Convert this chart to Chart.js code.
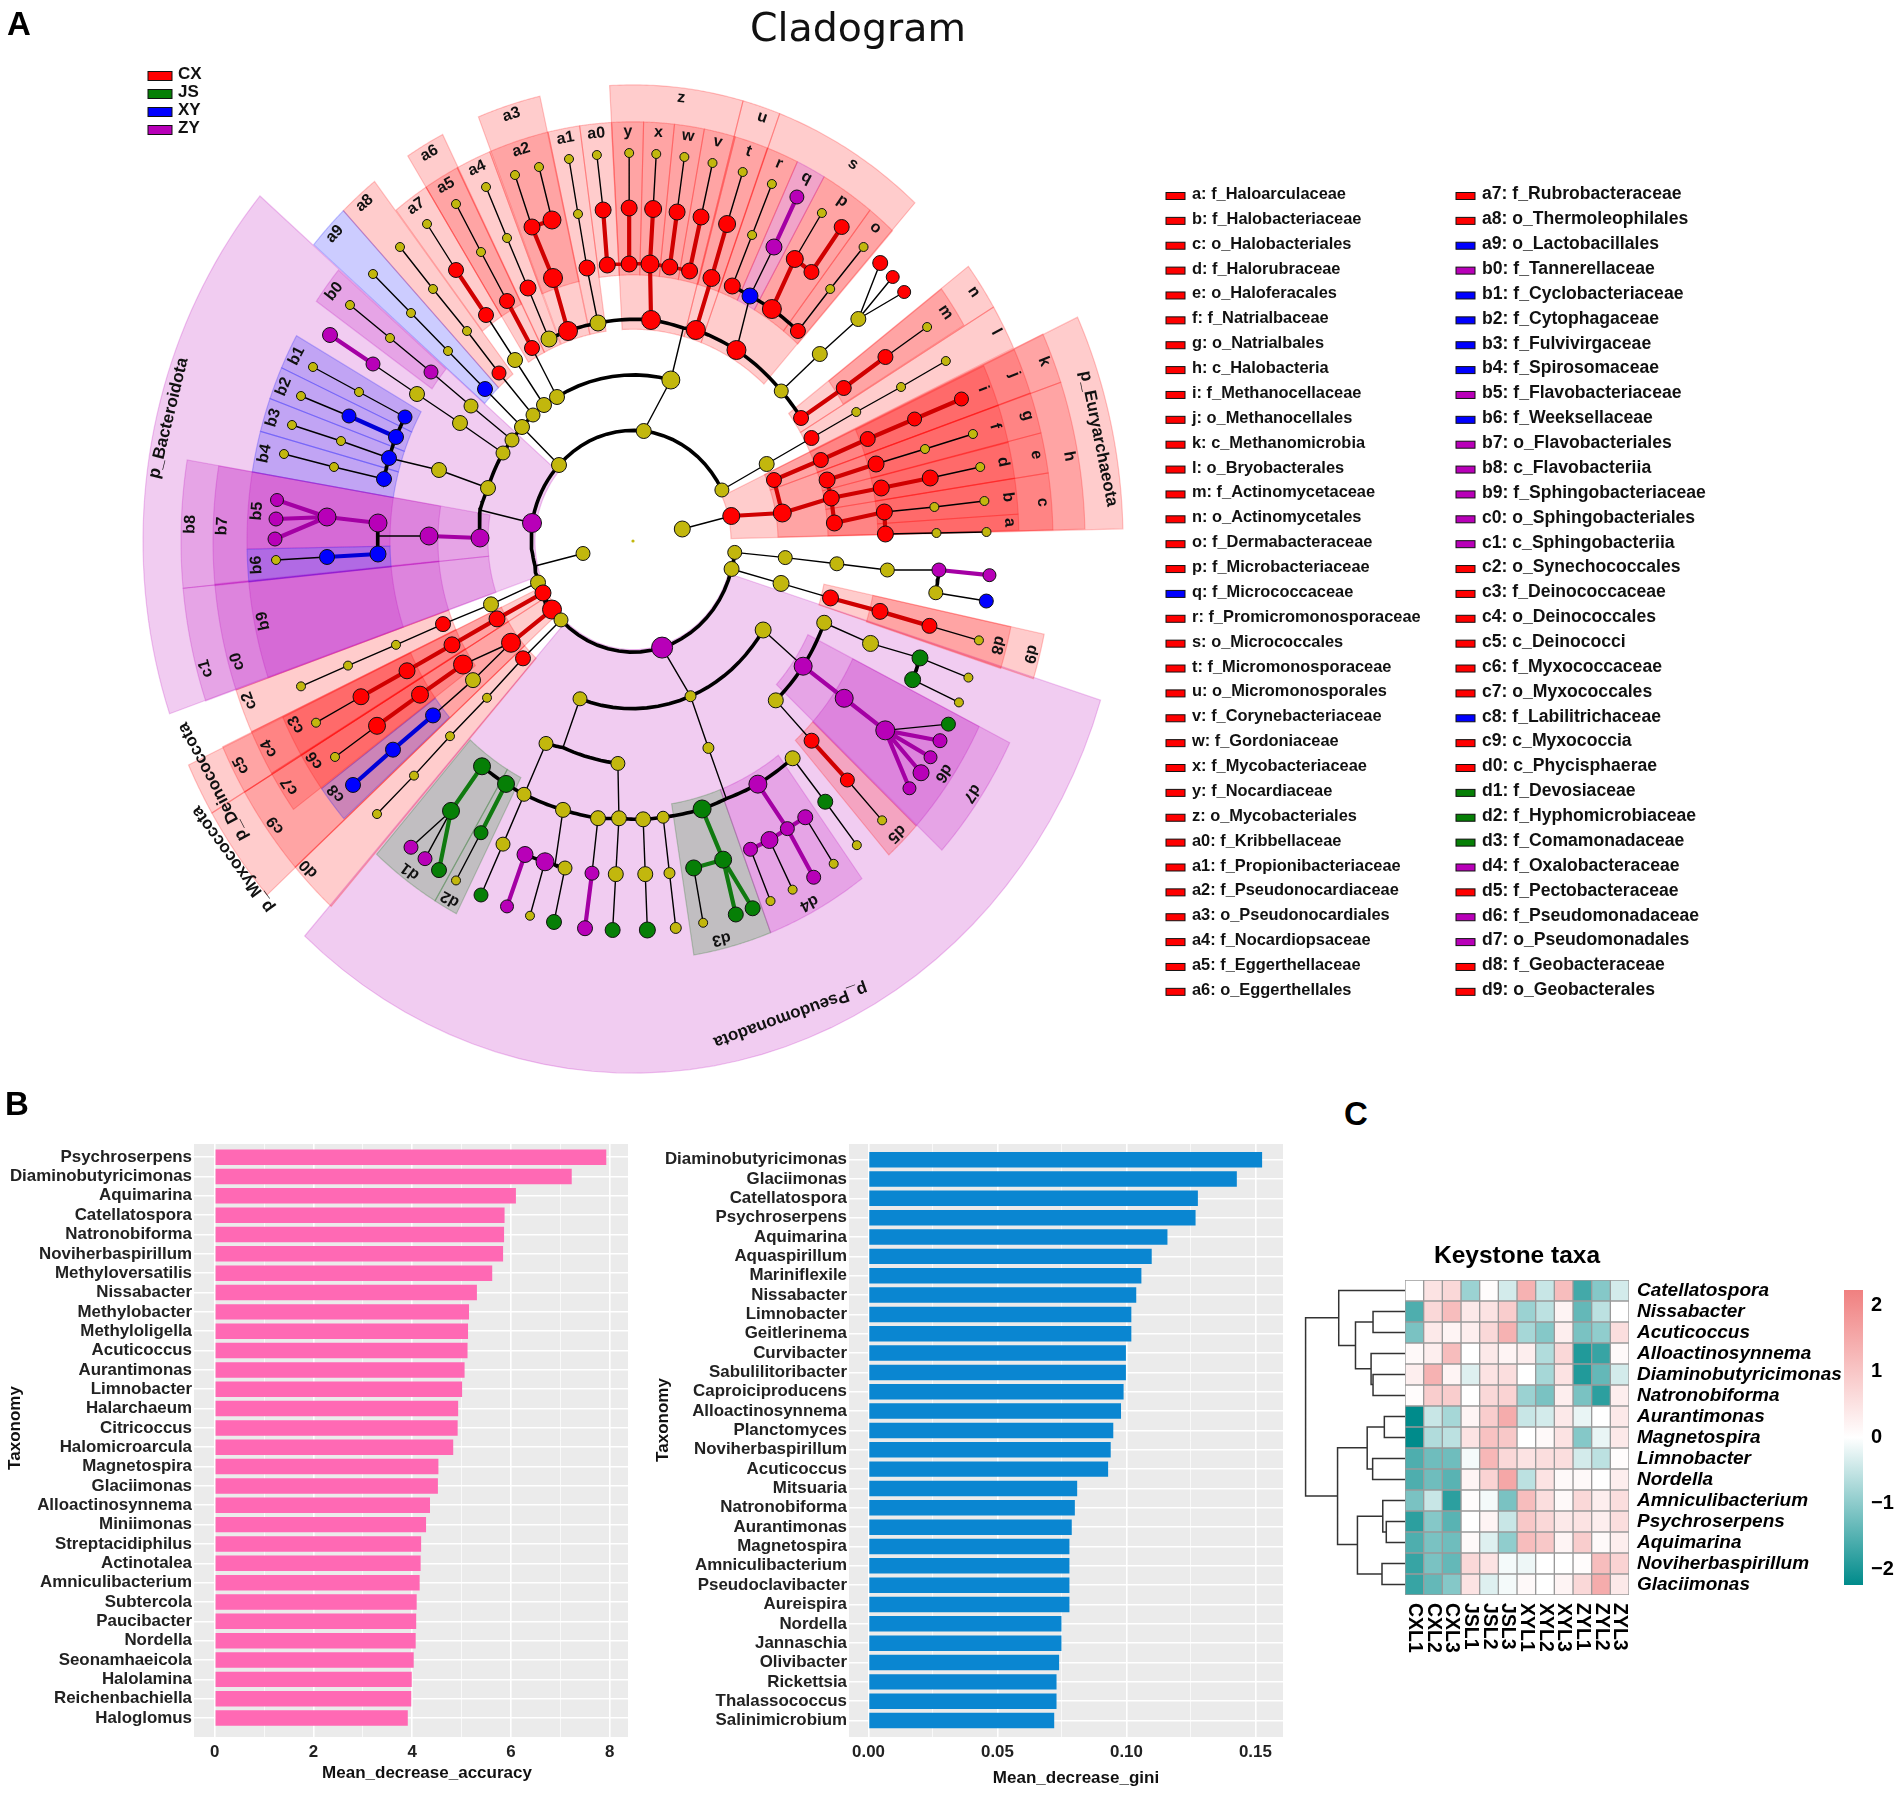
<!DOCTYPE html>
<html>
<head>
<meta charset="utf-8">
<title>Cladogram, importance ranking and keystone taxa</title>
<script src="https://cdn.jsdelivr.net/npm/chart.js@4"></script>
<style>
  html, body { margin: 0; background: #fff; }
  #page { position: relative; width: 1902px; height: 1797px; overflow: hidden; }
  canvas { position: absolute; display: block; }
  .letter { position: absolute; font: bold 33px "Liberation Sans", Arial, sans-serif; color: #000; transform: translate(-50%, -50%); }
  #cladoTitle { position: absolute; left: 858px; top: 27px; transform: translate(-50%, -50%); font: 39.5px "DejaVu Sans", sans-serif; color: #111; }
</style>
</head>
<body>
<div id="page">
  <canvas id="clado" width="1902" height="1090" style="left:0;top:0"></canvas>
  <canvas id="acc" width="640" height="667" style="left:0;top:1130px"></canvas>
  <canvas id="gini" width="650" height="667" style="left:640px;top:1130px"></canvas>
  <canvas id="dendro" width="115" height="315" style="left:1290px;top:1280px"></canvas>
  <canvas id="heat" width="507" height="420" style="left:1395px;top:1240px"></canvas>
  <canvas id="cbar" width="58" height="335" style="left:1844px;top:1270px"></canvas>
  <div id="cladoTitle">Cladogram</div>
  <div class="letter" style="left:19px;top:24px">A</div>
  <div class="letter" style="left:17px;top:1104px">B</div>
  <div class="letter" style="left:1356px;top:1114px">C</div>
</div>
<script>
// ---- panel B data
const accLabels = ["Psychroserpens","Diaminobutyricimonas","Aquimarina","Catellatospora","Natronobiforma","Noviherbaspirillum","Methyloversatilis","Nissabacter","Methylobacter","Methyloligella","Acuticoccus","Aurantimonas","Limnobacter","Halarchaeum","Citricoccus","Halomicroarcula","Magnetospira","Glaciimonas","Alloactinosynnema","Miniimonas","Streptacidiphilus","Actinotalea","Amniculibacterium","Subtercola","Paucibacter","Nordella","Seonamhaeicola","Halolamina","Reichenbachiella","Haloglomus"];
const accValues = [7.93,7.23,6.1,5.87,5.86,5.84,5.62,5.31,5.15,5.13,5.12,5.06,5.01,4.93,4.92,4.83,4.53,4.52,4.36,4.28,4.18,4.17,4.15,4.09,4.08,4.07,4.03,3.99,3.98,3.91];
const giniLabels = ["Diaminobutyricimonas","Glaciimonas","Catellatospora","Psychroserpens","Aquimarina","Aquaspirillum","Mariniflexile","Nissabacter","Limnobacter","Geitlerinema","Curvibacter","Sabulilitoribacter","Caproiciproducens","Alloactinosynnema","Planctomyces","Noviherbaspirillum","Acuticoccus","Mitsuaria","Natronobiforma","Aurantimonas","Magnetospira","Amniculibacterium","Pseudoclavibacter","Aureispira","Nordella","Jannaschia","Olivibacter","Rickettsia","Thalassococcus","Salinimicrobium"];
const giniValues = [0.1526,0.1428,0.1277,0.1268,0.1159,0.1098,0.1058,0.1038,0.1019,0.1019,0.0998,0.0998,0.0989,0.0979,0.0949,0.0939,0.0929,0.0809,0.08,0.0788,0.0779,0.0779,0.0779,0.0779,0.0748,0.0748,0.0739,0.0729,0.0729,0.072];

// ---- panel C data
const heatRows = ["Catellatospora","Nissabacter","Acuticoccus","Alloactinosynnema","Diaminobutyricimonas","Natronobiforma","Aurantimonas","Magnetospira","Limnobacter","Nordella","Amniculibacterium","Psychroserpens","Aquimarina","Noviherbaspirillum","Glaciimonas"];
const heatCols = ["CXL1","CXL2","CXL3","JSL1","JSL2","JSL3","XYL1","XYL2","XYL3","ZYL1","ZYL2","ZYL3"];
const heatValues = [
  [0,0.5,0.7,-0.9,0.05,-0.4,1.4,-0.5,1.2,-1.7,-1.1,-0.4],
  [-1.6,0.7,1.2,0.4,0.5,0.9,-0.9,-0.6,0.2,-1.4,-0.6,0],
  [-1.2,0.4,0.2,0.3,0.7,1.4,-0.8,-1.1,0.3,-1.2,-1,0.6],
  [0.1,0.3,1.2,0,0.4,0.2,0.3,-0.7,0.7,-2,-1.8,0.1],
  [0.3,1.4,0.2,-0.3,0.5,0.6,0,-0.8,0.5,-2,-1.4,-0.4],
  [0.05,0.9,0.9,0,0.7,0.8,-0.9,-1.2,0.3,-1.2,-1.9,0.3],
  [-2.3,-0.5,-0.8,0.2,0.9,1.5,-0.5,-0.4,0.4,-0.2,0,0.4],
  [-2.3,-0.7,-0.6,0.5,1.1,1,0,0.1,0.5,-1.1,-0.2,0.4],
  [-1.6,-1.3,-1.3,-0.1,1.3,0.7,0.5,0.6,0.6,-0.4,-0.6,0.05],
  [-1.6,-1.3,-1.5,0.2,0.8,1.6,-0.6,0.5,0.1,0.1,0,0.3],
  [-1.2,-0.5,-1.9,0.05,-0.1,-1.2,1.2,0.6,0.1,0.7,0.3,0.6],
  [-1.9,-1.1,-1.5,0,0.2,-0.5,1,0.7,0.4,0.5,0.3,0.6],
  [-1.6,-1.2,-1.3,0.1,-0.3,-1,1.2,1,0.2,0.9,0.1,0.3],
  [-1.8,-1.2,-1.4,0.7,0.5,-0.1,-0.15,0,0,0.05,1.2,0.8],
  [-1.8,-1.4,-1.1,0.5,-0.3,-0.1,0.1,0,0.2,0.7,1.5,0.4]
];
// height, top row, bottom row, child height top, child height bottom
const dendroMerges = [
  [40,1.3,9.79,125,122],[125,0,2.62,295,168],[168,1.5,3.73,213,208],[213,1,2,295,295],
  [208,3,4.48,295,213],[213,4,5,295,295],[122,7.49,12.1,198,173],[198,6.5,8.5,242,212],
  [242,6,7,295,295],[212,8,9,295,295],[173,10.75,13.5,238,236],[238,10,11.5,295,247],
  [247,11,12,295,295],[236,13,14,295,295]
];

// ---- panel A legend data
const groupNames = ["CX","JS","XY","ZY"];
const groupKeys = ["R","G","B","P"];
const taxaCol1 = ["a: f_Haloarculaceae","b: f_Halobacteriaceae","c: o_Halobacteriales","d: f_Halorubraceae","e: o_Haloferacales","f: f_Natrialbaceae","g: o_Natrialbales","h: c_Halobacteria","i: f_Methanocellaceae","j: o_Methanocellales","k: c_Methanomicrobia","l: o_Bryobacterales","m: f_Actinomycetaceae","n: o_Actinomycetales","o: f_Dermabacteraceae","p: f_Microbacteriaceae","q: f_Micrococcaceae","r: f_Promicromonosporaceae","s: o_Micrococcales","t: f_Micromonosporaceae","u: o_Micromonosporales","v: f_Corynebacteriaceae","w: f_Gordoniaceae","x: f_Mycobacteriaceae","y: f_Nocardiaceae","z: o_Mycobacteriales","a0: f_Kribbellaceae","a1: f_Propionibacteriaceae","a2: f_Pseudonocardiaceae","a3: o_Pseudonocardiales","a4: f_Nocardiopsaceae","a5: f_Eggerthellaceae","a6: o_Eggerthellales"];
const taxaCol1Keys = "RRRRRRRRRRRRRRRRBRRRRRRRRRRRRRRRR";
const taxaCol2 = ["a7: f_Rubrobacteraceae","a8: o_Thermoleophilales","a9: o_Lactobacillales","b0: f_Tannerellaceae","b1: f_Cyclobacteriaceae","b2: f_Cytophagaceae","b3: f_Fulvivirgaceae","b4: f_Spirosomaceae","b5: f_Flavobacteriaceae","b6: f_Weeksellaceae","b7: o_Flavobacteriales","b8: c_Flavobacteriia","b9: f_Sphingobacteriaceae","c0: o_Sphingobacteriales","c1: c_Sphingobacteriia","c2: o_Synechococcales","c3: f_Deinococcaceae","c4: o_Deinococcales","c5: c_Deinococci","c6: f_Myxococcaceae","c7: o_Myxococcales","c8: f_Labilitrichaceae","c9: c_Myxococcia","d0: c_Phycisphaerae","d1: f_Devosiaceae","d2: f_Hyphomicrobiaceae","d3: f_Comamonadaceae","d4: f_Oxalobacteraceae","d5: f_Pectobacteraceae","d6: f_Pseudomonadaceae","d7: o_Pseudomonadales","d8: f_Geobacteraceae","d9: o_Geobacterales"];
const taxaCol2Keys = "RRBPBBBBPBPPPPPRRRRRRBRRGGGPRPPRR";

// ---- panel A tree nodes: id, parent ("^" = row above), x, y, radius, colour, edge style
// read per crop of the picture, the crop objects further down put them back in place
const nodesNW = [
  ["Af","",559,465,7.5,"Y",""],
  ["B4","Af",522,427,7.5,"Y","t"],["","^",485,389,7.5,"B","t"],["","^",448,351,4.5,"Y","t"],["","^",411,313,4.5,"Y","t"],["","^",373,274,4.5,"Y","t"],
  ["B1","",557,397,7.5,"Y",""],["","B1",532,348,7.5,"R","t"],["","^",507,301,7.5,"R","R"],["","^",481,252,4.5,"Y","t"],["","^",456,204,4.5,"Y","t"],
  ["B2","",544,405,7.5,"Y",""],["","^",515,360,7.5,"Y","t"],["","^",486,315,7.5,"R","t"],["","^",456,270,7.5,"R","R"],["","^",427,224,4.5,"Y","t"],
  ["B3","",533,415,7,"Y",""],["","^",499,373,7,"R","t"],["","^",467,331,4.5,"Y","t"],["","^",433,289,4.5,"Y","t"],["","^",400,247,4.5,"Y","t"],
  ["B5","",512,440,7,"Y",""],["","^",471,406,7,"Y","t"],["","^",431,372,7,"P","t"],["","^",390,338,4.5,"Y","t"],["","^",350,305,4.5,"Y","t"],
  ["B6","",503,453,7,"Y",""],["","^",460,423,7.5,"Y","t"],["","^",417,394,7.5,"Y","t"],["","^",373,364,7,"P","t"],["","^",330,335,7.5,"P","P"],
  ["B7","",488,488,7.5,"Y",""],["","^",439,470,7.5,"Y","t"],["F3","^",389,458,7.5,"B","t"],
  ["F1","",405,417,7,"B",""],["","^",359,392,4.5,"Y","t"],["","^",313,367,4.5,"Y","t"],
  ["F2","",396,437,7.5,"B",""],["","^",349,416,7,"B","B"],["","^",301,396,4.5,"Y","t"],
  ["","F3",341,441,4.5,"Y","t"],["","^",292,425,4.5,"Y","t"],
  ["F4","",384,479,7.5,"B",""],["","^",334,467,4.5,"Y","t"],["","^",284,454,4.5,"Y","t"],
  ["Ab","",532,523,9.5,"P",""],["Jb","^",480,510,0,"Y","t"],
  ["L1","",480,538,9,"P",""],["","^",429,536,9,"P","P"],["J2","^",378,536,0,"Y","t"],
  ["G1","",378,523,9,"P",""],["G3","^",327,517,9,"P","P"],["","G3",277,500,6.5,"P","P"],["","G3",276,519,7,"P","P"],["","G3",275,539,7,"P","P"],
  ["G2","",378,554,8,"B",""],["","^",327,557,7.5,"B","B"],["","^",276,560,4.5,"Y","t"],
  ["C0","",549,339,8,"Y",""],["","^",528,288,8,"R","t"],["","^",507,238,4.5,"Y","t"],["","^",486,187,4.5,"Y","t"],
  ["C1","",568,331,9.5,"R",""],["","^",553,278,9.5,"R","R"],["a2n","^",532,227,8,"R","R"],["","^",515,175,4.5,"Y","t"],
  ["","a2n",552,220,9,"R","R"],["","^",539,167,4.5,"Y","t"],
  ["C2","",598,323,8,"Y",""],["","^",587,268,8,"R","t"],["","^",578,214,4.5,"Y","t"],["","^",569,159,4.5,"Y","t"]
];
const nodesNE = [
  ["At","",642,431,7.5,"Y",""],["Bt","^",668,380,9,"Y","t"],["Jt","^",680,328,0,"Y","t"],
  ["C3","",649,320,9.5,"R",""],["T2","^",648,264,9,"R","R"],["","^",651,209,8.5,"R","R"],["","^",654,154,4.5,"Y","t"],
  ["T0","",607,265,8,"R",""],["","^",603,210,8,"R","R"],["","^",597,155,4.5,"Y","t"],
  ["T1","",628,264,8,"R",""],["","^",628,208,8,"R","R"],["","^",628,153,4.5,"Y","t"],
  ["T3","",667,267,8,"R",""],["","^",674,212,8,"R","R"],["","^",681,157,4.5,"Y","t"],
  ["T4","",686,271,8,"R",""],["","^",697,217,8,"R","R"],["","^",708,163,4.5,"Y","t"],
  ["C4","",692,330,9.5,"R",""],["","^",707,278,8.5,"R","R"],["","^",722,224,8.5,"R","R"],["","^",737,172,4.5,"Y","t"],
  ["C5","",731,350,9.5,"R",""],["U1","^",744,296,8,"B","t"],["","^",767,247,8,"P","t"],["","^",789,197,7,"P","P"],
  ["U0","",727,286,8,"R",""],["","^",746,235,4.5,"Y","t"],["","^",765,184,4.5,"Y","t"],
  ["U2","",765,309,9.5,"R",""],["U5","^",787,259,8.5,"R","R"],["","^",813,213,4.5,"Y","t"],
  ["","U5",803,272,7.5,"R","R"],["","^",832,227,7.5,"R","R"],
  ["U3","",790,331,7.5,"R",""],["","^",821,289,4.5,"Y","t"],["","^",853,247,4.5,"Y","t"],
  ["C6","",774,391,7,"Y",""],["","^",811,354,7.5,"Y","t"],["V","^",848,319,7.5,"Y","t"],
  ["","V",869,263,7.5,"R","t"],["","V",881,277,6.5,"R","t"],["","V",892,292,6.5,"R","t"],
  ["C7","",793,418,7.5,"R",""],["","^",834,388,7.5,"R","R"],["","^",874,357,7.5,"R","R"],["","^",914,327,4.5,"Y","t"],
  ["Ar","",717,490,7,"Y",""],["","^",760,464,7.5,"Y","t"],["","^",803,438,7.5,"R","t"],["","^",846,412,4.5,"Y","t"],["","^",889,387,4.5,"Y","t"],["","^",932,361,4.5,"Y","t"],
  ["","",679,529,8,"Y",""],["","^",726,516,8.5,"R","t"],["E1","^",775,513,9,"R","R"],
  ["","E1",767,480,7.5,"R","R"],["","^",812,460,7.5,"R","R"],["","^",857,439,7.5,"R","R"],["","^",902,419,7,"R","R"],["","^",947,399,7,"R","R"],
  ["E3","E1",822,498,8,"R","R"],["","^",870,488,8,"R","R"],["","^",917,478,8,"R","R"],["","^",965,467,4.5,"Y","t"],
  ["","E3",818,480,8,"R","R"],["","^",865,464,8,"R","R"],["","^",912,449,4.5,"Y","t"],["","^",958,434,4.5,"Y","t"],
  ["","E3",825,523,8,"R","R"],["E6","^",873,512,8,"R","R"],["","^",921,507,4.5,"Y","t"],["","^",969,501,4.5,"Y","t"],
  ["","E6",874,534,8,"R","R"],["","^",923,533,4.5,"Y","t"],["","^",971,532,4.5,"Y","t"]
];
const nodesSW = [
  ["","",583,553,7,"Y",""],["Jl","^",535,565,0,"Y","t"],
  ["As1","",538,581,7.5,"Y",""],["","^",491,602,7.5,"Y","t"],["","^",443,621,7.5,"R","t"],["","^",396,641,4.5,"Y","t"],["","^",348,661,4.5,"Y","t"],["","^",301,681,4.5,"Y","t"],
  ["As2","",543,591,8,"R",""],["","^",497,616,8,"R","R"],["","^",452,641,8,"R","R"],["","^",407,666,8,"R","R"],["","^",361,691,8,"R","R"],["","^",316,716,4.5,"Y","t"],
  ["As3","",552,607,9.5,"R",""],["S1","^",511,639,9.5,"R","R"],["","^",463,660,9.5,"R","t"],["","^",420,689,8.5,"R","R"],["","^",377,719,8.5,"R","R"],["","^",335,749,4.5,"Y","t"],
  ["","S1",473,675,7.5,"Y","t"],["","^",433,709,7.5,"B","t"],["","^",393,742,7.5,"B","B"],["","^",353,776,7.5,"B","B"],
  ["As4","",561,617,7,"Y",""],["","^",523,654,7.5,"R","t"],["","^",487,692,4.5,"Y","t"],["","^",450,729,4.5,"Y","t"],["","^",414,767,4.5,"Y","t"],["","^",377,804,4.5,"Y","t"],
  ["Q0","",580,693,7,"Y",""],["Jm","^",563,740,0,"Y","t"],
  ["M0","",546,736,7,"Y",""],["","^",503,833,7,"Y","t"],["","^",481,882,7,"G","t"],
  ["Gx0","",482,758,8.5,"G",""],["Gn","^",451,801,8.5,"G","G"],["","Gn",439,858,7.5,"G","G"],["","Gn",411,836,7,"P","t"],["","Gn",425,847,7,"P","t"],
  ["Gx1","",506,775,8.5,"G",""],["","^",481,822,7,"G","G"],["","^",456,868,4.5,"Y","t"],
  ["Gx2","",524,785,7,"Y",""],
  ["Gx3","",563,800,7.5,"Y",""],["Jq","^",555,853,0,"Y","t"],
  ["Pq0","",525,843,8,"P",""],["","^",507,893,6.5,"P","P"],
  ["Pq1","",545,850,9,"P",""],["","^",530,902,4.5,"Y","t"],
  ["Pq2","",565,856,7,"Y",""],["","^",554,908,7.5,"G","t"],
  ["Gx4","",598,808,7.5,"Y",""],["","^",592,861,7,"P","t"],["","^",585,914,7.5,"P","P"]
];
const nodesSE = [
  ["Pb","",659,644,10.5,"P",""],["Q1","^",686,691,5.5,"Y","t"],["","^",703,741,5.5,"Y","t"],["Jn","^",720,790,0,"Y","t"],
  ["Q2","",755,627,8,"Y",""],["H1","^",793,662,9,"P","t"],
  ["Ha","",813,620,7.5,"Y",""],["","^",857,640,8,"Y","t"],["Hc","^",904,654,8,"G","t"],["","^",950,673,4.5,"Y","t"],
  ["Hd","",897,675,8,"G",""],["","^",941,697,4.5,"Y","t"],
  ["","H1",832,693,9,"P","P"],["Hk","^",871,724,9.5,"P","P"],["","Hk",931,718,7,"G","t"],["","Hk",923,734,7,"P","P"],["","Hk",914,750,6.5,"P","P"],["","Hk",905,765,8,"P","P"],["","Hk",894,780,6.5,"P","P"],
  ["Hb","",767,695,7.5,"Y",""],["","^",801,734,7.5,"R","t"],["","^",835,772,7,"R","R"],["","^",868,811,4.5,"Y","t"],
  ["W7","",783,751,7.5,"Y",""],["","^",814,793,7.5,"G","t"],["","^",844,835,4.5,"Y","t"],
  ["W6","",750,776,9,"P",""],["Ky","^",778,819,7,"P","P"],["","^",803,866,7,"P","P"],
  ["","Ky",795,808,7.5,"P","P"],["","^",822,853,4.5,"Y","t"],
  ["Kx","Ky",761,830,8.5,"P","P"],["","^",783,878,4.5,"Y","t"],
  ["","Kx",743,839,7,"P","P"],["","^",762,889,4.5,"Y","t"],
  ["W5","",697,800,9,"G",""],["Lz","^",717,849,8.5,"G","G"],["","Lz",729,902,7.5,"G","G"],["","Lz",745,896,7.5,"G","G"],
  ["","Lz",689,857,8,"G","G"],["","^",698,910,4.5,"Y","t"],
  ["W4","",660,808,6,"Y",""],["","^",666,862,5.5,"Y","t"],["","^",672,915,5.5,"Y","t"],
  ["W3","",641,810,7.5,"Y",""],["","^",643,863,7.5,"Y","t"],["","^",645,917,8,"G","t"],
  ["M1","",617,756,7,"Y",""],["W2","^",618,809,7.5,"Y","t"],["","^",615,863,7.5,"Y","t"],["","^",612,917,7.5,"G","t"],
  ["Ae","",725,568,7.5,"Y",""],["","^",772,582,8,"Y","t"],["","^",819,596,8,"R","t"],["","^",866,609,8,"R","R"],["","^",913,623,7.5,"R","R"],["","^",960,637,4.5,"Y","t"],
  ["Ae2","",728,552,7,"Y",""],["","^",776,557,7,"Y","t"],["","^",825,563,7,"Y","t"],["","^",873,569,7,"Y","t"],["Ya","^",922,569,7,"P","t"],["","^",970,574,6.5,"P","P"],
  ["Yb","",919,591,7,"Y",""],["","^",967,599,7,"B","t"]
];
// thick curved branches running through nodes
const blackArcs = [
  ["Ar","At","Af","Ab","Jl","As1","As2","As3","As4","Pb","Ae","Ae2"],
  ["Bt","B1","B2","B3","B4","B5","B6","B7","Jb","L1"],
  ["C0","C1","C2","C3","Jt","C4","C5","C6","C7"],
  ["Q0","Q1","Q2"],["M0","Jm","M1"],
  ["Gx0","Gx1","Gx2","Gx3","Gx4","W2","W3","W4","W5","Jn","W6","W7"],
  ["Pq0","Pq1","Jq","Pq2"],["Ha","H1","Hb"],["Hc","Hd"],["Ya","Yb"],
  ["F1","F2","F3","F4"],["G1","G2"],["U0","U1","U2","U3"]
];
const redArcs = [["T0","T1","T2","T3","T4"]];

// ---- panel A wedges: label, colour, inner radius, outer corner 1, outer corner 2,
// then optional label radius and label position along the rim (0..1)
const wedgesPicture = [
  ["p_Bacteroidota","P",98,260,196,169,714,478,0.45],
  ["p_Pseudomonadota","P",100,1100,700,303,938,464,0.46]
];
const wedgesNW = [
  ["a0","R",245,579,121,611,117],["a1","R",195,547,127,579,121],["a2","R",245,488,147,547,127],["a3","R",195,477,113,539,92],
  ["a4","R",195,455,163,488,147],["a5","R",245,423,182,455,163],["a6","R",195,406,153,441,131],["a7","R",245,393,206,423,182],
  ["a8","R",195,341,208,372,178],["a9","B",195,311,242,341,208],["b0","P",245,312,298,335,267],
  ["b1","B",243,292,333,278,366],["b2","B",243,278,366,266,397],["b3","B",243,266,397,256,430],["b4","B",243,256,430,247,471],
  ["b5","P",243,247,471,243,549],["b7","P",195,213,465,210,586],["b8","P",145,182,459,178,589]
];
const wedgesNE = [
  ["p_Euryarchaeota","R",98,1055,319,1097,529,475,0.57],
  ["h","R",145,1043,382,1066,529],["k","R",145,1027,333,1043,382],["j","R",195,997,350,1013,393],["i","R",245,970,365,983,405],
  ["g","R",195,1013,393,1023,433],["f","R",245,983,405,993,442],["e","R",195,1023,433,1030,473],["d","R",245,993,442,999,478],
  ["c","R",195,1030,473,1034,530],["b","R",245,999,478,1002,514],["a","R",245,1002,514,1003,530],
  ["l","R",195,978,307,997,348],["m","R",245,930,287,951,324],["n","R",195,954,266,978,307],
  ["o","R",245,860,209,883,228],["p","R",245,817,173,860,209],["q","P",245,791,158,817,173],["r","R",245,762,144,791,158],
  ["s","R",195,773,112,903,202,0,0.55],["t","R",245,731,132,762,144],["u","R",195,738,98,773,112,0,0.6],
  ["v","R",245,701,124,731,132],["w","R",245,672,119,701,124],["x","R",245,642,117,672,119],["y","R",245,611,117,642,117],
  ["z","R",195,609,81,738,98,0,0.54]
];
const wedgesSW = [
  ["b6","B",243,243,549,243,581],["b9","P",243,243,581,262,675,0,0.42],["c0","P",195,210,583,232,686,0,0.75],["c1","P",145,178,587,200,697,0,0.73],
  ["c2","R",195,232,686,247,727,0,0.33],["c3","R",245,278,713,297,750,0,0.3],["c4","R",195,247,727,268,767],["c5","R",145,217,742,238,787],
  ["c6","R",245,297,750,317,783,0,0.3],["c7","R",195,268,767,289,803],["c8","B",245,317,783,339,813,0,0.35],["c9","R",145,238,787,290,860],
  ["d0","R",145,290,860,327,898,0,0.2],
  ["p_Deinococcota","R",98,188,757,212,803],["p_Myxococcota","R",98,212,803,267,882,496],
  ["d1","G",245,373,847,432,893],["d2","G",245,432,893,453,907]
];
const wedgesSE = [
  ["d3","G",245,690,947,764,925,0,0.38],["d4","P",245,764,925,852,872,0,0.45],["d5","R",245,878,849,904,820],["d6","P",245,904,820,965,723],
  ["d7","P",195,928,843,993,738],["d8","R",245,986,666,995,625],["d9","R",195,1017,676,1026,632]
];

// crops were read with slightly different scales, this puts them back on the picture
const cropNW = { ox: 100, oy: 50, fx: 1, fy: 1 };
const cropNE = { ox: 600, oy: 50, fx: 1.0417, fy: 1 };
const cropSW = { ox: 100, oy: 540, fx: 1, fy: 1.038 };
const cropSE = { ox: 600, oy: 540, fx: 1.0526, fy: 1.0345 };
const mapX = (v, c) => c.ox + (v - c.ox) * c.fx;
const mapY = (v, c) => c.oy + (v - c.oy) * c.fy;

const FONT = '"Liberation Sans", Arial, sans-serif';
const CX = 633, CY = 541, STRETCH = 1.086;
const RIMS = [386, 420, 452, 490];
const nodeColors = { Y: "#c2b70d", R: "#ff0000", G: "#067f06", B: "#0000ff", P: "#b800b8" };
const edgeColors = { t: "#000000", R: "#d00000", P: "#a400a4", B: "#0000d8", G: "#107a10" };
const wedgeFill = { R: "rgba(255,0,0,0.2)", P: "rgba(185,0,185,0.2)", B: "rgba(0,0,255,0.2)", G: "rgba(0,128,0,0.2)" };
const wedgeLine = { R: "rgba(255,0,0,0.22)", P: "rgba(185,0,185,0.22)", B: "rgba(0,0,255,0.22)", G: "rgba(0,100,0,0.22)" };

const toPolar = (x, y) => {
  const dx = x - CX, dy = (y - CY) / STRETCH;
  return { r: Math.hypot(dx, dy), t: Math.atan2(dy, dx) };
};
const fromPolar = (r, t) => ({ x: CX + r * Math.cos(t), y: CY + r * Math.sin(t) * STRETCH });
const angleGap = (a, b) => {
  let d = b - a;
  while (d > Math.PI) d -= 2 * Math.PI;
  while (d < -Math.PI) d += 2 * Math.PI;
  return d;
};

// ---- build tree
const allNodes = [];
[[nodesNW, cropNW], [nodesNE, cropNE], [nodesSW, cropSW], [nodesSE, cropSE]].forEach(([rows, crop]) => {
  rows.forEach((row) => {
    allNodes.push({ id: row[0], parent: row[1], x: mapX(row[2], crop), y: mapY(row[3], crop), r: row[4], col: row[5], edge: row[6] });
  });
});
const nodeById = {};
allNodes.forEach((n) => { if (n.id) nodeById[n.id] = n; });

const edgeBuckets = { t: [], R: [], P: [], B: [], G: [] };
allNodes.forEach((n, i) => {
  if (!n.edge) return;
  const from = n.parent === "^" ? allNodes[i - 1] : nodeById[n.parent];
  edgeBuckets[n.edge].push({ x: from.x, y: from.y }, { x: n.x, y: n.y }, { x: NaN, y: NaN });
});
const arcLine = (chains) => {
  const out = [];
  chains.forEach((chain) => {
    chain.forEach((id, i) => {
      if (i === 0) return;
      const a = nodeById[chain[i - 1]], b = nodeById[id];
      const pa = toPolar(a.x, a.y), pb = toPolar(b.x, b.y);
      const gap = angleGap(pa.t, pb.t);
      for (let s = 0; s <= 10; s++) {
        out.push(fromPolar(pa.r + (pb.r - pa.r) * s / 10, pa.t + gap * s / 10));
      }
    });
    out.push({ x: NaN, y: NaN });
  });
  return out;
};

const lineSet = (data, color, width, order) => ({
  type: "scatter", data, showLine: true, spanGaps: false, borderColor: color, backgroundColor: color,
  borderWidth: width, pointRadius: 0, order, clip: false, borderCapStyle: "round"
});
const shownNodes = allNodes.filter((n) => n.r > 0);

// ---- build wedges
const allWedges = [];
[[wedgesPicture, { ox: 0, oy: 0, fx: 1, fy: 1 }], [wedgesNW, cropNW], [wedgesNE, cropNE], [wedgesSW, cropSW], [wedgesSE, cropSE]].forEach(([rows, crop]) => {
  rows.forEach((w) => {
    const a = toPolar(mapX(w[3], crop), mapY(w[4], crop));
    const b = toPolar(mapX(w[5], crop), mapY(w[6], crop));
    const mean = (a.r + b.r) / 2;
    const rim = RIMS.reduce((best, v) => (Math.abs(v - mean) < Math.abs(best - mean) ? v : best), RIMS[0]);
    allWedges.push({ label: w[0], col: w[1], rIn: w[2], rOut: rim, t1: a.t, gap: angleGap(a.t, b.t), labelR: w[7], labelAt: w[8] || 0.5 });
  });
});
allWedges.sort((p, q) => q.rOut - p.rOut);

const wedgePlugin = {
  id: "wedges",
  beforeDatasetsDraw(chart) {
    const { ctx, scales } = chart;
    const px = (p) => [scales.x.getPixelForValue(p.x), scales.y.getPixelForValue(p.y)];
    allWedges.forEach((w) => {
      ctx.beginPath();
      for (let s = 0; s <= 40; s++) {
        const [x, y] = px(fromPolar(w.rOut, w.t1 + w.gap * s / 40));
        s === 0 ? ctx.moveTo(x, y) : ctx.lineTo(x, y);
      }
      for (let s = 40; s >= 0; s--) {
        const [x, y] = px(fromPolar(w.rIn, w.t1 + w.gap * s / 40));
        ctx.lineTo(x, y);
      }
      ctx.closePath();
      ctx.fillStyle = wedgeFill[w.col];
      ctx.fill();
      ctx.strokeStyle = wedgeLine[w.col];
      ctx.lineWidth = 1.2;
      ctx.stroke();
    });
  },
  afterDatasetsDraw(chart) {
    const { ctx, scales } = chart;
    ctx.save();
    ctx.fillStyle = "#111";
    ctx.textAlign = "center";
    ctx.textBaseline = "middle";
    allWedges.forEach((w) => {
      const phylum = w.label.startsWith("p_");
      const t = w.t1 + w.gap * w.labelAt;
      const r = w.labelR || (phylum ? w.rOut - 15 : w.rOut - 9);
      const p = fromPolar(r, t);
      ctx.save();
      ctx.translate(scales.x.getPixelForValue(p.x), scales.y.getPixelForValue(p.y));
      ctx.rotate(t + Math.PI / 2);
      ctx.font = `bold ${phylum ? 17 : 16}px ${FONT}`;
      ctx.fillText(w.label, 0, 0);
      ctx.restore();
    });
    // group legend
    groupNames.forEach((name, i) => {
      const y = 76 + i * 18;
      ctx.fillStyle = nodeColors[groupKeys[i]];
      ctx.strokeStyle = "#111";
      ctx.lineWidth = 1;
      ctx.fillRect(148, y - 4.5, 24, 9);
      ctx.strokeRect(148, y - 4.5, 24, 9);
      ctx.fillStyle = "#111";
      ctx.textAlign = "left";
      ctx.font = `bold 17px ${FONT}`;
      ctx.fillText(name, 178, y - 2);
    });
    // taxa legend
    [[taxaCol1, taxaCol1Keys, 1166, 16.4], [taxaCol2, taxaCol2Keys, 1456, 17.6]].forEach(([names, keys, left, size]) => {
      names.forEach((name, i) => {
        const y = 194.5 + i * 24.87;
        ctx.fillStyle = nodeColors[keys[i]];
        ctx.fillRect(left, y - 2, 19, 7);
        ctx.strokeStyle = "#111";
        ctx.strokeRect(left, y - 2, 19, 7);
        ctx.fillStyle = "#111";
        ctx.font = `bold ${size}px ${FONT}`;
        ctx.fillText(name, left + 26, y);
      });
    });
    // root
    ctx.fillStyle = nodeColors.Y;
    ctx.beginPath();
    ctx.arc(scales.x.getPixelForValue(CX), scales.y.getPixelForValue(CY), 1.6, 0, 2 * Math.PI);
    ctx.fill();
    ctx.restore();
  }
};

new Chart(document.getElementById("clado"), {
  type: "scatter",
  data: {
    datasets: [
      {
        data: shownNodes.map((n) => ({ x: n.x, y: n.y })),
        pointRadius: shownNodes.map((n) => n.r),
        backgroundColor: shownNodes.map((n) => nodeColors[n.col]),
        borderColor: "#111",
        borderWidth: 1,
        order: 0,
        clip: false
      },
      lineSet(edgeBuckets.t, edgeColors.t, 1.4, 6),
      lineSet(edgeBuckets.R, edgeColors.R, 4.2, 5),
      lineSet(edgeBuckets.P, edgeColors.P, 4.2, 4),
      lineSet(edgeBuckets.B, edgeColors.B, 4.2, 3),
      lineSet(edgeBuckets.G, edgeColors.G, 4.2, 2),
      lineSet(arcLine(redArcs), edgeColors.R, 3.5, 2),
      lineSet(arcLine(blackArcs), "#000", 3.6, 1)
    ]
  },
  options: {
    responsive: false,
    animation: false,
    events: [],
    layout: { padding: 0, autoPadding: false },
    plugins: { legend: { display: false }, tooltip: { enabled: false } },
    scales: {
      x: { type: "linear", min: 0, max: 1902, display: false },
      y: { type: "linear", min: 0, max: 1090, reverse: true, display: false }
    }
  },
  plugins: [wedgePlugin]
});

// ---- panel B
function notesPlugin(notes) {
  return {
    id: "notes",
    beforeDraw(chart) {
      const { ctx, chartArea: a } = chart;
      ctx.save();
      ctx.fillStyle = "#ebebeb";
      ctx.fillRect(a.left, a.top, a.right - a.left, a.bottom - a.top);
      ctx.restore();
    },
    afterDraw(chart) {
      const { ctx } = chart;
      ctx.save();
      ctx.fillStyle = "#111";
      ctx.textAlign = "center";
      ctx.textBaseline = "middle";
      ctx.font = `bold 17px ${FONT}`;
      notes.forEach((n) => {
        ctx.save();
        ctx.translate(n.x, n.y);
        ctx.rotate(n.rot || 0);
        ctx.fillText(n.text, 0, 0);
        ctx.restore();
      });
      ctx.restore();
    }
  };
}

function rankChart(id, labels, values, color, cfg) {
  new Chart(document.getElementById(id), {
    type: "bar",
    data: {
      datasets: [{
        data: values.map((v, i) => ({ x: v, y: i })),
        backgroundColor: color,
        barPercentage: 0.8,
        categoryPercentage: 1
      }]
    },
    options: {
      indexAxis: "y",
      responsive: false,
      animation: false,
      events: [],
      layout: { padding: { top: 14, right: cfg.right, bottom: 0, left: 0 } },
      plugins: { legend: { display: false }, tooltip: { enabled: false } },
      scales: {
        x: {
          type: "linear",
          min: cfg.min,
          max: cfg.max,
          afterBuildTicks: (axis) => { axis.ticks = cfg.ticks.map((v) => ({ value: v })); },
          afterFit: (axis) => { axis.height = 60; },
          grid: {
            color: "#fff",
            drawTicks: false,
            lineWidth: (c) => (cfg.major(c.tick.value) ? 1.6 : 0.7)
          },
          border: { display: false },
          ticks: {
            autoSkip: false,
            maxRotation: 0,
            padding: 5,
            color: "#222",
            font: { family: FONT, size: 16.9, weight: "bold" },
            callback: (v) => (cfg.major(v) ? cfg.format(v) : "")
          }
        },
        y: {
          type: "linear",
          offset: false,
          reverse: true,
          min: cfg.yMin,
          max: cfg.yMax,
          afterBuildTicks: (axis) => { axis.ticks = labels.map((l, i) => ({ value: i })); },
          afterFit: (axis) => { axis.width = cfg.left; },
          grid: { color: "#fff", lineWidth: 1.6, drawTicks: false, offset: false },
          border: { display: false },
          ticks: {
            autoSkip: false,
            padding: 2,
            color: "#222",
            font: { family: FONT, size: 16.9, weight: "bold" },
            callback: (v) => labels[v]
          }
        }
      }
    },
    plugins: [notesPlugin(cfg.notes)]
  });
}

rankChart("acc", accLabels, accValues, "#ff69b4", {
  left: 194, right: 12, min: -0.42, max: 8.37, yMin: -0.68, yMax: 29.98,
  ticks: [0, 1, 2, 3, 4, 5, 6, 7, 8],
  major: (v) => v % 2 === 0,
  format: (v) => String(v),
  notes: [
    { text: "Mean_decrease_accuracy", x: 427, y: 643 },
    { text: "Taxonomy", x: 15, y: 298, rot: -Math.PI / 2 }
  ]
});
rankChart("gini", giniLabels, giniValues, "#0a86d1", {
  left: 209, right: 7, min: -0.00756, max: 0.1607, yMin: -0.81, yMax: 29.85,
  ticks: [0, 0.025, 0.05, 0.075, 0.1, 0.125, 0.15],
  major: (v) => Math.round(v * 1000) % 50 === 0,
  format: (v) => v.toFixed(2),
  notes: [
    { text: "Mean_decrease_gini", x: 436, y: 648 },
    { text: "Taxonomy", x: 23, y: 290, rot: -Math.PI / 2 }
  ]
});

// ---- panel C
const heatColor = (v) => {
  const f = Math.min(Math.abs(v) / 2.3, 1);
  const end = v < 0 ? [0, 139, 139] : [240, 128, 128];
  const c = end.map((e) => Math.round(255 + (e - 255) * f));
  return `rgb(${c[0]},${c[1]},${c[2]})`;
};

const dendroPoints = [];
dendroMerges.forEach(([h, top, bottom, childTop, childBottom]) => {
  dendroPoints.push({ x: childTop, y: top }, { x: h, y: top }, { x: h, y: bottom }, { x: childBottom, y: bottom }, { x: NaN, y: NaN });
});
new Chart(document.getElementById("dendro"), {
  type: "scatter",
  data: { datasets: [lineSet(dendroPoints, "#333", 1.5, 1)] },
  options: {
    responsive: false,
    animation: false,
    events: [],
    layout: { padding: 0, autoPadding: false },
    plugins: { legend: { display: false }, tooltip: { enabled: false } },
    scales: {
      x: { type: "linear", min: 0, max: 295, display: false },
      y: { type: "linear", min: -0.5, max: 14.5, reverse: true, display: false }
    }
  }
});

const heatTextPlugin = {
  id: "heatText",
  afterDraw(chart) {
    const { ctx, scales, chartArea: a } = chart;
    ctx.save();
    ctx.fillStyle = "#000";
    ctx.textBaseline = "middle";
    ctx.textAlign = "center";
    ctx.font = `bold 24.5px ${FONT}`;
    ctx.fillText("Keystone taxa", 122, 16);
    ctx.font = `bold 19.5px ${FONT}`;
    ctx.textAlign = "left";
    heatCols.forEach((name, j) => {
      ctx.save();
      ctx.translate(scales.x.getPixelForValue(j + 0.5), a.bottom + 8);
      ctx.rotate(Math.PI / 2);
      ctx.fillText(name, 0, 0);
      ctx.restore();
    });
    ctx.restore();
  }
};
new Chart(document.getElementById("heat"), {
  type: "bar",
  data: {
    labels: heatRows,
    datasets: heatCols.map((name, j) => ({
      label: name,
      data: heatRows.map(() => [j, j + 1]),
      backgroundColor: heatRows.map((r, i) => heatColor(heatValues[i][j])),
      borderColor: "#9a9a9a",
      borderWidth: 1,
      borderSkipped: false,
      barPercentage: 1,
      categoryPercentage: 1,
      grouped: false
    }))
  },
  options: {
    indexAxis: "y",
    responsive: false,
    animation: false,
    events: [],
    layout: { padding: { left: 10, top: 40, bottom: 65, right: 0 } },
    plugins: { legend: { display: false }, tooltip: { enabled: false } },
    scales: {
      x: { type: "linear", min: 0, max: 12, display: false },
      y: {
        position: "right",
        afterFit: (axis) => { axis.width = 273; },
        grid: { display: false, drawTicks: false },
        border: { display: false },
        ticks: {
          autoSkip: false,
          padding: 8,
          color: "#000",
          font: { family: FONT, size: 19, weight: "bold", style: "italic" }
        }
      }
    }
  },
  plugins: [heatTextPlugin]
});

new Chart(document.getElementById("cbar"), {
  type: "bar",
  data: {
    labels: [""],
    datasets: [{
      data: [[-2.24, 2.24]],
      borderSkipped: false,
      barPercentage: 1,
      categoryPercentage: 1,
      backgroundColor: (c) => {
        const a = c.chart.chartArea;
        if (!a) return "#fff";
        const g = c.chart.ctx.createLinearGradient(0, a.top, 0, a.bottom);
        g.addColorStop(0, "#f08080");
        g.addColorStop(0.5, "#ffffff");
        g.addColorStop(1, "#008b8b");
        return g;
      }
    }]
  },
  options: {
    responsive: false,
    animation: false,
    events: [],
    layout: { padding: { top: 10, bottom: 10, left: 0, right: 0 } },
    plugins: { legend: { display: false }, tooltip: { enabled: false } },
    scales: {
      x: { display: false },
      y: {
        position: "right",
        min: -2.24,
        max: 2.24,
        afterBuildTicks: (axis) => { axis.ticks = [-2, -1, 0, 1, 2].map((v) => ({ value: v })); },
        afterFit: (axis) => { axis.width = 39; },
        grid: { display: false, drawTicks: false },
        border: { display: false },
        ticks: {
          padding: 8,
          color: "#000",
          font: { family: FONT, size: 20, weight: "bold" },
          callback: (v) => (v < 0 ? "\u2212" + (-v) : String(v))
        }
      }
    }
  }
});
</script>
</body>
</html>
